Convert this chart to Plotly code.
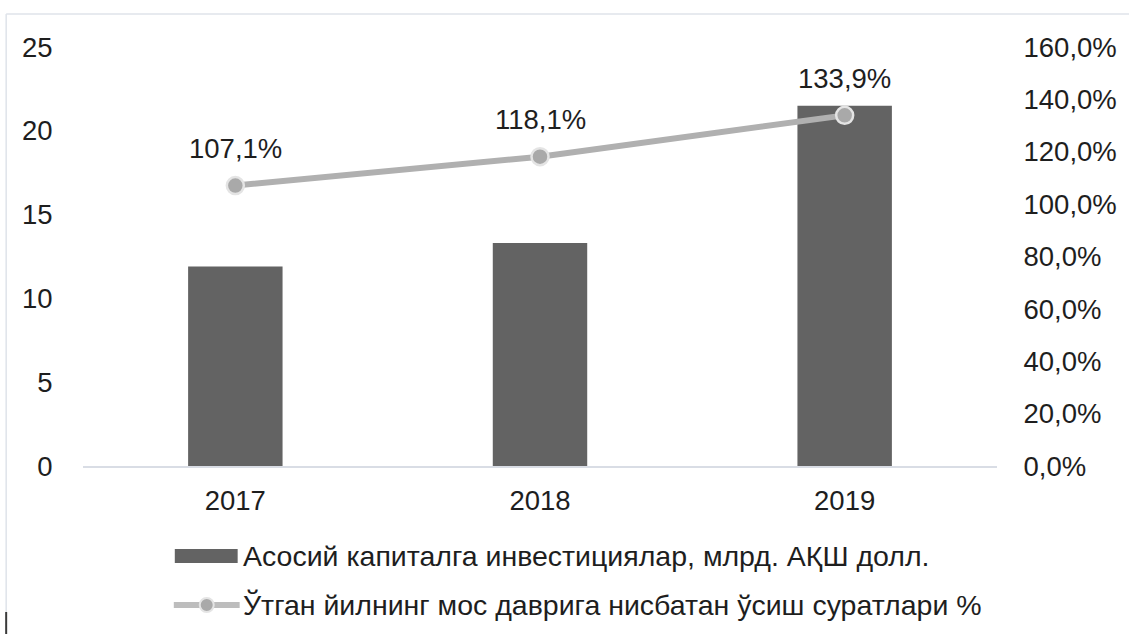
import plotly.graph_objects as go

# Data
years = ["2017", "2018", "2019"]
investment_bln_usd = [11.9, 13.3, 21.5]          # Асосий капиталга инвестициялар, млрд. АҚШ долл.
growth_pct = [107.1, 118.1, 133.9]               # Ўтган йилнинг мос даврига нисбатан ўсиш суратлари %
left_ticks = [0, 5, 10, 15, 20, 25]
right_ticks = [0, 20, 40, 60, 80, 100, 120, 140, 160]

bar_name = "Асосий капиталга инвестициялар, млрд. АҚШ долл."
line_name = "Ўтган йилнинг мос даврига нисбатан ўсиш суратлари %"

# Canvas geometry (px)
W, H = 1129, 634
ML, MR, MT, MB = 83, 130, 47, 168
PW, PH = W - ML - MR, H - MT - MB

FONT = "Liberation Sans, Arial, sans-serif"
TXT = "#1e1e1e"
BAR_COLOR = "#636363"
LINE_COLOR = "#b0b0b0"
MARK_COLOR = "#a9a9a9"
MARK_EDGE = "#e4e4e4"
FRAME = "#dfe3ea"
TICK_SIZE = 27.5
LEGEND_SIZE = 28.5


def px_x(p):
    return (p - ML) / PW


def px_y(p):
    return (H - MB - p) / PH


def pct(v):
    return f"{v:.1f}".replace(".", ",") + "%"


fig = go.Figure()

fig.add_trace(go.Bar(
    x=years, y=investment_bln_usd, name=bar_name,
    marker=dict(color=BAR_COLOR, line=dict(width=0)),
    yaxis="y", showlegend=False,
))

fig.add_trace(go.Scatter(
    x=years, y=growth_pct, name=line_name, mode="lines+markers",
    line=dict(color=LINE_COLOR, width=6),
    marker=dict(size=17, color=MARK_COLOR, line=dict(color=MARK_EDGE, width=2.5)),
    yaxis="y2", showlegend=False,
))

# value labels above the growth points (category index positions)
for i, v in enumerate(growth_pct):
    fig.add_annotation(
        x=i, y=v, xref="x", yref="y2", text=pct(v), showarrow=False,
        yshift=37, font=dict(family=FONT, size=TICK_SIZE, color=TXT),
    )

shapes = []
# outer frame: top and left edges
shapes.append(dict(type="line", xref="paper", yref="paper",
                   x0=px_x(6), x1=px_x(W + 5), y0=px_y(14), y1=px_y(14),
                   line=dict(color=FRAME, width=1.5)))
shapes.append(dict(type="line", xref="paper", yref="paper",
                   x0=px_x(6), x1=px_x(6), y0=px_y(14), y1=px_y(612),
                   line=dict(color=FRAME, width=1.5)))
shapes.append(dict(type="line", xref="paper", yref="paper",
                   x0=px_x(6), x1=px_x(6), y0=px_y(612), y1=px_y(H + 5),
                   line=dict(color="#3a3a3a", width=2)))

# legend: bar swatch
shapes.append(dict(type="rect", xref="paper", yref="paper",
                   x0=px_x(175), x1=px_x(238), y0=px_y(549), y1=px_y(563),
                   fillcolor=BAR_COLOR, line=dict(width=0)))
# legend: line swatch with marker
shapes.append(dict(type="line", xref="paper", yref="paper",
                   x0=px_x(174), x1=px_x(240), y0=px_y(605), y1=px_y(605),
                   line=dict(color="#bdbdbd", width=6)))
shapes.append(dict(type="circle", xref="paper", yref="paper",
                   x0=px_x(200), x1=px_x(214), y0=px_y(598), y1=px_y(612),
                   fillcolor=MARK_COLOR, line=dict(color=MARK_EDGE, width=2)))

for label, cy in ((bar_name, 556), (line_name, 605)):
    fig.add_annotation(
        xref="paper", yref="paper", x=px_x(241), y=px_y(cy),
        xanchor="left", yanchor="middle", text=label, showarrow=False,
        font=dict(family=FONT, size=LEGEND_SIZE, color=TXT),
    )

fig.update_layout(
    width=W, height=H,
    margin=dict(l=ML, r=MR, t=MT, b=MB, pad=0),
    paper_bgcolor="white", plot_bgcolor="white",
    font=dict(family=FONT, size=TICK_SIZE, color=TXT),
    bargap=0.69,
    showlegend=False,
    shapes=shapes,
    xaxis=dict(
        type="category", categoryorder="array", categoryarray=years,
        range=[-0.5, len(years) - 0.5], autorange=False,
        showgrid=False, zeroline=False,
        showline=True, linecolor="#d9dde5", linewidth=2,
        ticks="outside", ticklen=9, tickcolor="rgba(0,0,0,0)",
        tickfont=dict(family=FONT, size=TICK_SIZE, color=TXT),
    ),
    yaxis=dict(
        range=[0, 25], tickmode="array", tickvals=left_ticks,
        showgrid=False, zeroline=False,
        showline=False, ticks="outside", ticklen=24, tickcolor="rgba(0,0,0,0)",
        tickfont=dict(family=FONT, size=TICK_SIZE, color=TXT),
    ),
    yaxis2=dict(
        range=[0, 160], tickmode="array", tickvals=right_ticks,
        ticktext=[pct(v) for v in right_ticks],
        overlaying="y", side="right",
        showgrid=False, zeroline=False, showline=False,
        ticks="outside", ticklen=20, tickcolor="rgba(0,0,0,0)",
        tickfont=dict(family=FONT, size=TICK_SIZE, color=TXT),
    ),
)

fig.write_html("out.html")
